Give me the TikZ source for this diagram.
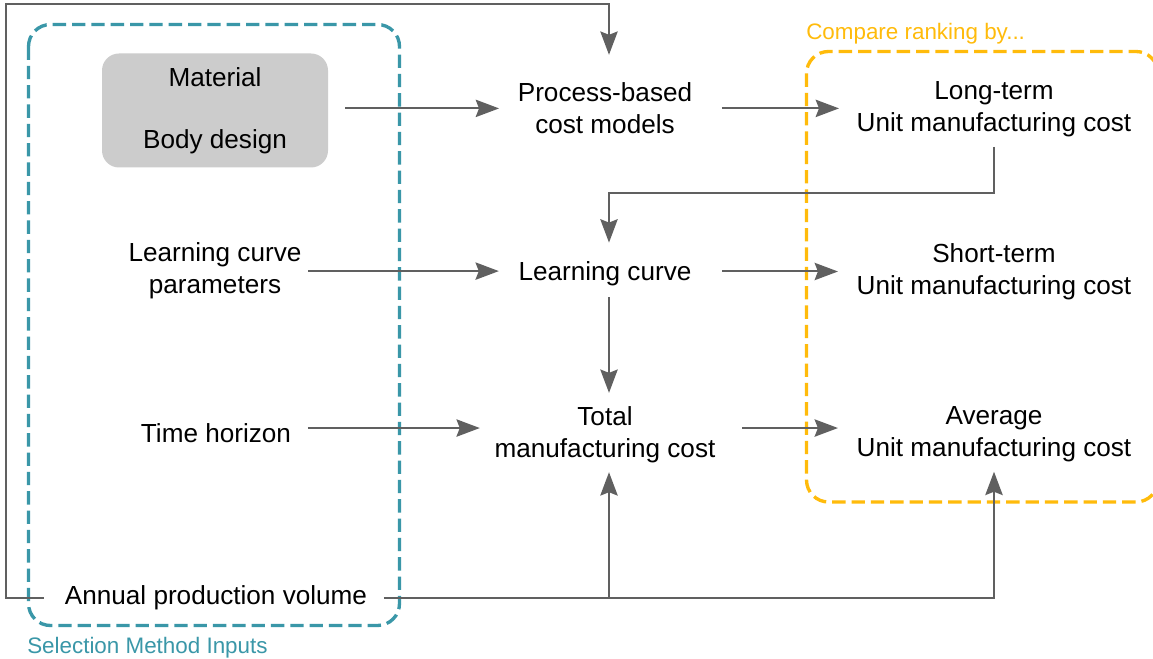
\documentclass[tikz,border=0pt]{standalone}
\usepackage{fontspec}
\setmainfont{Liberation Sans}
\usetikzlibrary{arrows.meta,calc}
\definecolor{inputteal}{HTML}{3A97A8}
\definecolor{rankamber}{HTML}{FFBB0B}
\definecolor{linkgray}{HTML}{606060}
\definecolor{boxgray}{HTML}{CCCCCC}

\begin{document}
\begin{tikzpicture}[x=0.75pt,y=-0.75pt,
  lbl/.style={font=\fontsize{19.6pt}{24pt}\selectfont, inner sep=0pt, align=center},
  grp/.style={draw, line width=2.5pt, dash pattern=on 10pt off 4.5pt, rounded corners=16.5pt},
  grplabel/.style={font=\fontsize{16.8pt}{20pt}\selectfont, inner sep=0pt, anchor=base west},
  arr/.style={draw=linkgray, line width=1.5pt, -{Stealth[length=17.5pt,width=13pt,inset=2.5pt]}},
]
\useasboundingbox (0,0) rectangle (1153,659);
\fill[white] (0,0) rectangle (1153,659);

% group frames
\draw[grp, inputteal] (28.5,24.5) rectangle (399.5,625.5);
\draw[grp, rankamber] (806.5,51.5) rectangle (1158,502);
\node[grplabel, text=inputteal] (inlabel) at (27,653) {Selection Method Inputs};
\node[grplabel, text=rankamber] (ranklabel) at (806,40) {Compare ranking by...};

% inputs
\node[lbl, fill=boxgray, rounded corners=12.75pt, minimum width=169.5pt, minimum height=85.5pt] (mat) at (215,110.5) {Material\\[22.2pt]Body design};
\node[lbl] (lcp) at (215,271.1) {Learning curve\\parameters};
\node[lbl] (th) at (216,433.5) {Time horizon};
\node[lbl] (apv) at (216,598) {Annual production volume};

% models
\node[lbl] (proc) at (605,108.4) {Process-based\\cost models};
\node[lbl] (lc) at (605,273.3) {Learning curve};
\node[lbl] (tot) at (605,434.3) {Total\\manufacturing cost};

% ranking criteria
\node[lbl] (lt) at (994,108.8) {Long-term\\Unit manufacturing cost};
\node[lbl] (st) at (994,271.5) {Short-term\\Unit manufacturing cost};
\node[lbl] (avg) at (994,434.3) {Average\\Unit manufacturing cost};

% routing helpers
\coordinate (colx) at ([xshift=3pt]lc.north);
\coordinate (ltbend) at (0,192.7);
\coordinate (topleft) at (6,4);

% connectors
\draw[arr, shorten <=12.75pt, shorten >=13.9pt] (mat.east |- proc.west) -- (proc.west);
\draw[arr, shorten <=22.1pt, shorten >=13.1pt] (proc.east) -- (proc.east -| lt.west);
\draw[arr, shorten <=7.5pt, shorten >=13.7pt] (lt.south) -- (lt.south |- ltbend) -| (colx);
\draw[arr, shorten <=4.9pt, shorten >=14.6pt] (lcp.east) -- (lcp.east -| lc.west);
\draw[arr, shorten <=22.9pt, shorten >=13.9pt] (lc.east |- st.west) -- (st.west);
\draw[arr, shorten <=8.6pt, shorten >=9.75pt] (lc.south -| colx) -- (tot.north -| colx);
\draw[arr, shorten <=12.4pt, shorten >=10.9pt] ([yshift=4.1pt]th.east) -- ([yshift=4.1pt]th.east -| tot.west);
\draw[arr, shorten <=19.9pt, shorten >=13.9pt] ([yshift=4.7pt]tot.east) -- ([yshift=4.7pt]tot.east -| avg.west);
\draw[arr, shorten <=12.4pt, shorten >=7.1pt] (apv.east) -- (apv.east -| avg.south) -- (avg.south);
\draw[arr, shorten >=7.1pt] (apv.east -| colx) -- (tot.south -| colx);
\draw[arr, shorten <=15.75pt, shorten >=20.8pt] (apv.west) -- (apv.west -| topleft) -- (topleft) -| (proc.north -| colx);
\end{tikzpicture}
\end{document}
